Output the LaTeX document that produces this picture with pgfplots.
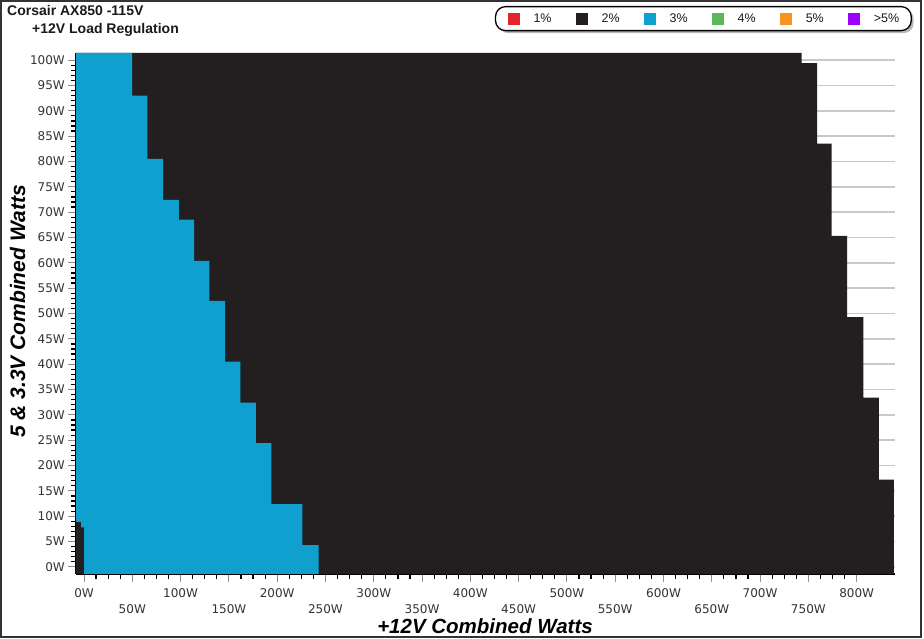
\documentclass[border=0pt]{standalone}
\usepackage{pgfplots}
\pgfplotsset{compat=1.18}
\usepackage{fontspec}
\setmainfont{Liberation Sans}
\newfontfamily\tickfont{DejaVu Sans}
\usetikzlibrary{shadows}

\definecolor{cblack}{HTML}{231F20}
\definecolor{cblue}{HTML}{0FA0CF}
\definecolor{cred}{HTML}{E3242B}
\definecolor{cgreen}{HTML}{5CB85C}
\definecolor{corange}{HTML}{F7941D}
\definecolor{cpurple}{HTML}{9B00FF}
\definecolor{cgrid}{HTML}{C8C8C8}

\pgfplotsset{layers/mylayers/.define layer set={axis background,axis grid,pre main,main,axis ticks,axis lines,axis tick labels,axis descriptions,axis foreground}{}}

\pgfplotsset{sqlegend/.style={legend image code/.code={\pgfsetcornersarced{\pgfpointorigin}\pgfpathrectangle{\pgfpoint{0pt}{-6pt}}{\pgfpoint{12pt}{12pt}}\pgfusepath{fill}}}}

\pgfplotstableread{
x y
-8.3 -1.4
838.5 -1.4
838.5 17.2
823 17.2
823 33.4
807 33.4
807 49.3
790 49.3
790 65.3
774 65.3
774 83.5
759 83.5
759 99.4
743 99.4
743 101.4
-8.3 101.4
}\blackarea

\pgfplotstableread{
x y
0 -1.4
243 -1.4
243 4.3
226 4.3
226 12.4
194 12.4
194 24.4
178 24.4
178 32.4
162 32.4
162 40.5
146 40.5
146 52.5
129.7 52.5
129.7 60.4
113.9 60.4
113.9 68.5
98.3 68.5
98.3 72.4
82 72.4
82 80.5
65.5 80.5
65.5 93
49.7 93
49.7 101.4
-8.3 101.4
-8.3 8.9
-3 8.9
-3 7.8
0 7.8
}\bluearea

\begin{document}
\begin{tikzpicture}[x=1pt,y=1pt]
\fill[white] (0,0) rectangle (924,639);
\begin{axis}[
  set layers=mylayers,
  at={(76pt,65pt)}, anchor=south west,
  scale only axis, width=819pt, height=521pt,
  xmin=-8.3, xmax=839.7, ymin=-1.4, ymax=101.4,
  axis x line*=bottom, axis y line*=left,
  axis line style={-, line width=2.4pt, black},
  xtick={0,50,...,800}, minor x tick num=3,
  ytick={0,5,...,100}, minor y tick num=4,
  tick align=outside,
  major tick length=8pt, minor tick length=5pt,
  major tick style={black!45, line width=1pt},
  minor tick style={black, line width=1.2pt},
  ymajorgrids,
  grid style={cgrid, line width=1.5pt},
  xticklabels={0W,\raisebox{-16pt}{50W},100W,\raisebox{-16pt}{150W},200W,\raisebox{-16pt}{250W},300W,\raisebox{-16pt}{350W},400W,\raisebox{-16pt}{450W},500W,\raisebox{-16pt}{550W},600W,\raisebox{-16pt}{650W},700W,\raisebox{-16pt}{750W},800W},
  yticklabels={0W,5W,10W,15W,20W,25W,30W,35W,40W,45W,50W,55W,60W,65W,70W,75W,80W,85W,90W,95W,100W},
  ticklabel style={font=\tickfont\fontsize{12}{12}\selectfont, text=black!80, inner sep=0pt},
  xticklabel style={anchor=base, yshift=-16pt},
  yticklabel style={anchor=east, xshift=-3pt},
  legend style={at={(axis description cs:0.766,1.066)}, anchor=center,
    legend columns=6, draw=black, line width=1.3pt, rounded corners=10pt,
    fill=white,
    drop shadow={shadow xshift=2.5pt, shadow yshift=-2.5pt, fill=black!55},
    inner xsep=12pt, inner ysep=6pt,
    font=\fontsize{12.5}{14}\selectfont, text=black!90,
    nodes={inner sep=0pt},
    /tikz/every odd column/.append style={column sep=14pt},
    /tikz/every even column/.append style={column sep=24pt}},
  legend cell align=left,
]
\addlegendimage{fill=cred, draw=none, sqlegend}
\addlegendentry{1\%}
\addlegendimage{fill=cblack, draw=none, sqlegend}
\addlegendentry{2\%}
\addlegendimage{fill=cblue, draw=none, sqlegend}
\addlegendentry{3\%}
\addlegendimage{fill=cgreen, draw=none, sqlegend}
\addlegendentry{4\%}
\addlegendimage{fill=corange, draw=none, sqlegend}
\addlegendentry{5\%}
\addlegendimage{fill=cpurple, draw=none, sqlegend}
\addlegendentry{>5\%}
\addplot[fill=cblack, draw=none] table[x=x, y=y] {\blackarea};
\addplot[fill=cblue, draw=none] table[x=x, y=y] {\bluearea};
\end{axis}
\node[anchor=base west, inner sep=0pt, font=\bfseries\fontsize{14}{14}\selectfont, text=black!90] at (7,623) {Corsair AX850 -115V};
\node[anchor=base west, inner sep=0pt, font=\bfseries\fontsize{14}{14}\selectfont, text=black!90] at (32,605) {+12V Load Regulation};
\node[inner sep=0pt, font=\bfseries\itshape\fontsize{20.5}{20.5}\selectfont] at (485,13) {+12V Combined Watts};
\node[inner sep=0pt, rotate=90, font=\bfseries\itshape\fontsize{21}{21}\selectfont] at (17.5,327.5) {5 \& 3.3V Combined Watts};
\draw[black!80, line width=2pt] (1,2) rectangle (921,638);
\end{tikzpicture}
\end{document}
